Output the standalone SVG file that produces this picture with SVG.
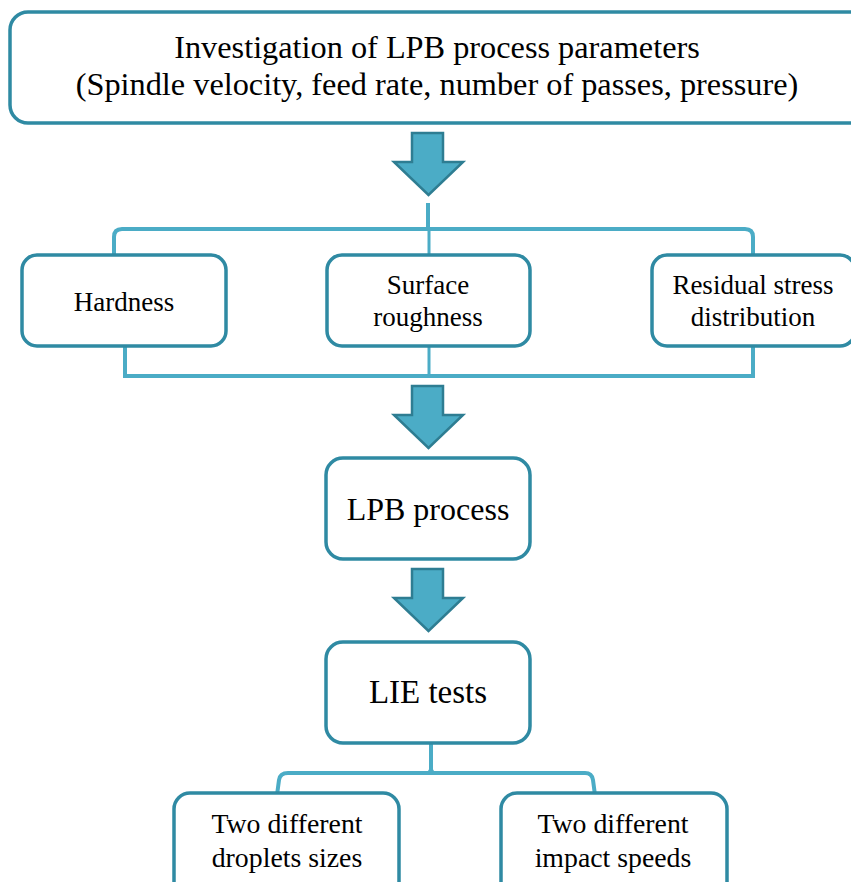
<svg xmlns="http://www.w3.org/2000/svg" width="851" height="882" viewBox="0 0 851 882">
<style>
.box{fill:#ffffff;stroke:#2F8AA3;stroke-width:3.5}
.conn{fill:none;stroke:#4BACC6;stroke-width:4}
.arrow{fill:#4BACC6;stroke:#2E7D92;stroke-width:2.5;stroke-linejoin:miter}
text{font-family:"Liberation Serif","Times New Roman",serif;fill:#000;text-anchor:middle}
.t1{font-size:32.3px}
.t2{font-size:27px}
.t2b{font-size:27.8px}
.t3{font-size:32px}
.t4{font-size:33px}
</style>
<defs>
<path id="arr" d="M412,133 H443 V162 H463 L428.5,195 L394,162 H412 Z"/>
</defs>
<rect width="851" height="882" fill="#ffffff"/>
<g id="connectors">
<use href="#arr" class="arrow"/>
<use href="#arr" class="arrow" transform="translate(0,253)"/>
<use href="#arr" class="arrow" transform="translate(0,436)"/>
<path class="conn" d="M114,255 V237 Q114,229 122,229 H745 Q753,229 753,237 V255"/>
<path class="conn" d="M428,203 V229"/>
<path d="M422,231 Q428,229 428,214 Q428,229 434,231 Z" fill="#4BACC6"/>
<path class="conn" style="stroke-width:3" d="M429,229 V255"/>
<path class="conn" d="M125,346 V376 H753 V346"/>
<path class="conn" style="stroke-width:3" d="M429,346 V376"/>
<path class="conn" d="M431,743 V773"/>
<path d="M424,775 Q431,771 431,758 Q431,771 438,775 Z" fill="#4BACC6"/>
<path class="conn" d="M277,795 L279,780 Q280,773 288,773 H585 Q592,773 593,780 L595,795"/>
</g>
<g id="node-params">
<rect class="box" x="10" y="12" width="860" height="111" rx="18"/>
<text class="t1" x="437" y="58">Investigation of LPB process parameters</text>
<text class="t1" x="437" y="95">(Spindle velocity, feed rate, number of passes, pressure)</text>
</g>
<g id="node-hardness">
<rect class="box" x="22" y="255" width="204" height="91" rx="15"/>
<text class="t2" x="124" y="311">Hardness</text>
</g>
<g id="node-roughness">
<rect class="box" x="327" y="255" width="203" height="91" rx="15"/>
<text class="t2" x="428" y="294">Surface</text>
<text class="t2" x="428" y="326">roughness</text>
</g>
<g id="node-residual">
<rect class="box" x="652" y="255" width="203" height="91" rx="15"/>
<text class="t2" x="753" y="294">Residual stress</text>
<text class="t2" x="753" y="326">distribution</text>
</g>
<g id="node-lpb">
<rect class="box" x="326" y="458" width="204" height="101" rx="17"/>
<text class="t3" x="428" y="520">LPB process</text>
</g>
<g id="node-lie">
<rect class="box" x="326" y="642" width="204" height="101" rx="17"/>
<text class="t4" x="428" y="703">LIE tests</text>
</g>
<g id="node-droplets">
<rect class="box" x="174" y="793" width="225" height="110" rx="16"/>
<text class="t2b" x="287" y="833">Two different</text>
<text class="t2b" x="287" y="867">droplets sizes</text>
</g>
<g id="node-speeds">
<rect class="box" x="501" y="793" width="226" height="110" rx="16"/>
<text class="t2b" x="613" y="833">Two different</text>
<text class="t2b" x="613" y="867">impact speeds</text>
</g>
</svg>
